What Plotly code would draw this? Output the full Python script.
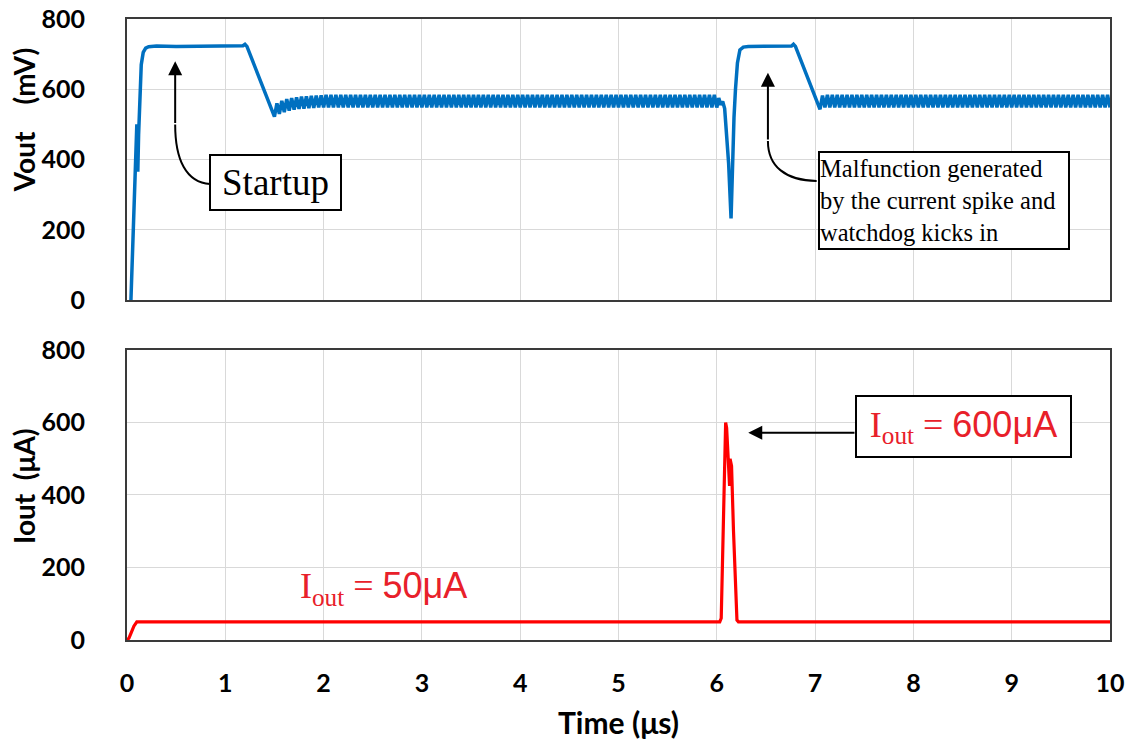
import plotly.graph_objects as go

# ---------------- data ----------------
# Vout startup segment (µs, mV)
startup_t = [0.04, 0.06, 0.08, 0.095, 0.100, 0.105, 0.110, 0.118, 0.130, 0.145, 0.165, 0.19, 0.22,
             0.30, 0.50, 0.70, 0.90, 1.10, 1.18, 1.20, 1.22]
startup_v = [0, 180, 360, 470, 500, 440, 365, 470, 590, 670, 705, 717, 721,
             723, 722, 723, 722, 723, 724, 728, 722]

# ripple segment 1 (starts 1.5 µs, period 0.05 µs): trough / peak values (mV)
ripple1_start = 1.5
ripple1_lo = [522, 530, 535, 539, 542, 544, 545, 546, 547, 548,
              548, 548, 548, 548, 548, 548, 548, 548, 548, 548,
              548, 548, 548, 548, 548, 548, 548, 548, 548, 548,
              548, 548, 548, 548, 548, 548, 548, 548, 548, 548,
              548, 548, 548, 548, 548, 548, 548, 548, 548, 548,
              548, 548, 548, 548, 548, 548, 548, 548, 548, 548,
              548, 548, 548, 548, 548, 548, 548, 548, 548, 548,
              548, 548, 548, 548, 548, 548, 548, 548, 548, 548,
              548, 548, 548, 548, 548, 548, 548, 548, 548, 548,
              548]
ripple1_hi = [560, 567, 572, 575, 577, 579, 580, 581, 582, 583,
              584, 584, 584, 584, 584, 584, 584, 584, 584, 584,
              584, 584, 584, 584, 584, 584, 584, 584, 584, 584,
              584, 584, 584, 584, 584, 584, 584, 584, 584, 584,
              584, 584, 584, 584, 584, 584, 584, 584, 584, 584,
              584, 584, 584, 584, 584, 584, 584, 584, 584, 584,
              584, 584, 584, 584, 584, 584, 584, 584, 584, 584,
              584, 584, 584, 584, 584, 584, 584, 584, 584, 584,
              584, 584, 584, 584, 584, 584, 584, 584, 584, 584]

# malfunction dip and watchdog restart
dip_t = [6.02, 6.04, 6.06, 6.08, 6.10, 6.12, 6.145, 6.16, 6.175, 6.19, 6.21, 6.235, 6.27,
         6.32, 6.50, 6.70, 6.76, 6.78, 6.80]
dip_v = [575, 556, 565, 545, 480, 390, 232, 400, 520, 600, 675, 712, 720,
         722, 723, 722, 723, 728, 722]

# ripple segment 2 (starts 7.05 µs, period 0.05 µs)
ripple2_start = 7.05
ripple2_lo = [543, 548, 548, 548, 548, 548, 548, 548, 548, 548,
              548, 548, 548, 548, 548, 548, 548, 548, 548, 548,
              548, 548, 548, 548, 548, 548, 548, 548, 548, 548,
              548, 548, 548, 548, 548, 548, 548, 548, 548, 548,
              548, 548, 548, 548, 548, 548, 548, 548, 548, 548,
              548, 548, 548, 548, 548, 548, 548, 548, 548, 548]
ripple2_hi = [582, 584, 584, 584, 584, 584, 584, 584, 584, 584,
              584, 584, 584, 584, 584, 584, 584, 584, 584, 584,
              584, 584, 584, 584, 584, 584, 584, 584, 584, 584,
              584, 584, 584, 584, 584, 584, 584, 584, 584, 584,
              584, 584, 584, 584, 584, 584, 584, 584, 584, 584,
              584, 584, 584, 584, 584, 584, 584, 584, 584]
ripple_period = 0.05

# Iout (µs, µA)
iout_t = [0.0, 0.02, 0.04, 0.07, 0.10, 0.12, 6.03, 6.045, 6.06, 6.075, 6.09, 6.10, 6.115,
          6.13, 6.135, 6.15, 6.17, 6.19, 6.205, 6.22, 10.0]
iout_v = [0, 5, 18, 38, 50, 50, 50, 60, 250, 480, 600, 585, 500,
          425, 500, 480, 300, 120, 55, 50, 50]

x_ticks = [0, 1, 2, 3, 4, 5, 6, 7, 8, 9, 10]
y_ticks = [0, 200, 400, 600, 800]


def zigzag(start, lo, hi):
    t, v = [], []
    for k, val in enumerate(lo):
        t.append(start + k * ripple_period)
        v.append(val)
        if k < len(hi):
            t.append(start + (k + 0.5) * ripple_period)
            v.append(hi[k])
    return t, v


r1_t, r1_v = zigzag(ripple1_start, ripple1_lo, ripple1_hi)
r2_t, r2_v = zigzag(ripple2_start, ripple2_lo, ripple2_hi)
vout_t = startup_t + r1_t + dip_t + r2_t
vout_v = startup_v + r1_v + dip_v + r2_v

# ---------------- figure ----------------
BLUE = "#0070C0"
RED = "#FF0000"
TXT_RED = "#E8202A"
SERIF = "Liberation Serif, Times New Roman, serif"
LATO = "Lato, Open Sans, sans-serif"
TICKFONT = dict(family=LATO, size=25, color="black", weight="bold")
YTITLEFONT = dict(family=LATO, size=28, color="black", weight="bold")
XTITLEFONT = dict(family=LATO, size=30, color="black", weight="bold")

fig = go.Figure()
fig.add_trace(go.Scatter(x=vout_t, y=vout_v, mode="lines", line=dict(color=BLUE, width=3.5),
                         xaxis="x", yaxis="y", showlegend=False, hoverinfo="skip"))
fig.add_trace(go.Scatter(x=iout_t, y=iout_v, mode="lines", line=dict(color=RED, width=3.2),
                         xaxis="x2", yaxis="y2", showlegend=False, hoverinfo="skip"))

axis_common = dict(showline=True, mirror=True, linecolor="#3a3a3a", linewidth=2,
                   showgrid=True, gridcolor="#d9d9d9", gridwidth=1, zeroline=False,
                   ticks="", tickfont=TICKFONT, automargin=False, ticklabeloverflow="allow")

# page body has an 8px margin, so the figure is 8px smaller than the window
fig.update_layout(
    width=1125, height=734,
    margin=dict(l=119, r=23, t=11, b=102),
    paper_bgcolor="white", plot_bgcolor="white",
    xaxis=dict(domain=[0, 1], anchor="y", range=[0, 10], tickvals=x_ticks,
               showticklabels=False, **axis_common),
    yaxis=dict(domain=[0.5475, 1], anchor="x", range=[0, 800], tickvals=y_ticks,
               ticklabelstandoff=35, **axis_common),
    xaxis2=dict(domain=[0, 1], anchor="y2", range=[0, 10], tickvals=x_ticks,
                ticklabelstandoff=20, **axis_common),
    yaxis2=dict(domain=[0, 0.467], anchor="x2", range=[0, 800], tickvals=y_ticks,
                ticklabelstandoff=35, **axis_common),
)

# curved arrow paths
fig.add_shape(type="path", xref="x", yref="y",
              path="M 0.845,330 C 0.60,335 0.49,400 0.49,500",
              line=dict(color="black", width=2))
fig.add_shape(type="path", xref="x", yref="y",
              path="M 7.016,339 C 6.70,340 6.52,380 6.52,453",
              line=dict(color="black", width=2))

annots = []
# axis titles
annots.append(dict(xref="paper", yref="y domain", x=-0.1048, y=0.64, xanchor="center",
                   yanchor="middle", textangle=-90, showarrow=False,
                   text="Vout&nbsp;&nbsp;&nbsp;&nbsp;(mV)", font=YTITLEFONT))
annots.append(dict(xref="paper", yref="y2 domain", x=-0.1048, y=0.531, xanchor="center",
                   yanchor="middle", textangle=-90, showarrow=False,
                   text="Iout&nbsp;&nbsp;(μA)", font=YTITLEFONT))
annots.append(dict(xref="paper", yref="paper", x=0.5, y=-0.132, xanchor="center",
                   yanchor="middle", showarrow=False,
                   text="Time (μs)", font=XTITLEFONT))
# arrow heads (straight parts)
annots.append(dict(xref="x", yref="y", axref="x", ayref="y", x=0.49, y=680, ax=0.49, ay=500,
                   text="", showarrow=True, arrowhead=2, arrowsize=1.4, arrowwidth=2,
                   arrowcolor="black"))
annots.append(dict(xref="x", yref="y", axref="x", ayref="y", x=6.52, y=647, ax=6.52, ay=453,
                   text="", showarrow=True, arrowhead=2, arrowsize=1.4, arrowwidth=2,
                   arrowcolor="black"))
annots.append(dict(xref="x2", yref="y2", axref="x2", ayref="y2", x=6.32, y=572, ax=7.416, ay=572,
                   text="", showarrow=True, arrowhead=2, arrowsize=1.4, arrowwidth=2,
                   arrowcolor="black"))
# boxes
annots.append(dict(xref="x", yref="y", x=1.511, y=334, text="Startup", showarrow=False,
                   font=dict(family=SERIF, size=37, color="black"),
                   bordercolor="black", borderwidth=2, borderpad=0, bgcolor="white",
                   width=129, height=53))
annots.append(dict(xref="x", yref="y", x=8.308, y=284,
                   text="Malfunction generated<br>by the current spike and<br>watchdog kicks in",
                   showarrow=False, align="left",
                   font=dict(family=SERIF, size=24.5, color="black"),
                   bordercolor="black", borderwidth=2, borderpad=0, bgcolor="white",
                   width=248, height=95))
annots.append(dict(xref="x2", yref="y2", x=8.513, y=590,
                   text=("I<sub>out</sub> = <span style='font-family:Liberation Sans, Arial'>"
                         "600μA</span>"),
                   showarrow=False,
                   font=dict(family=SERIF, size=36, color=TXT_RED),
                   bordercolor="black", borderwidth=2, borderpad=0, bgcolor="white",
                   width=213, height=59))
annots.append(dict(xref="x2", yref="y2", x=2.614, y=143,
                   text=("I<sub>out</sub> = <span style='font-family:Liberation Sans, Arial'>"
                         "50μA</span>"),
                   showarrow=False,
                   font=dict(family=SERIF, size=36, color=TXT_RED)))
fig.update_layout(annotations=annots)

fig.write_html("out.html")
